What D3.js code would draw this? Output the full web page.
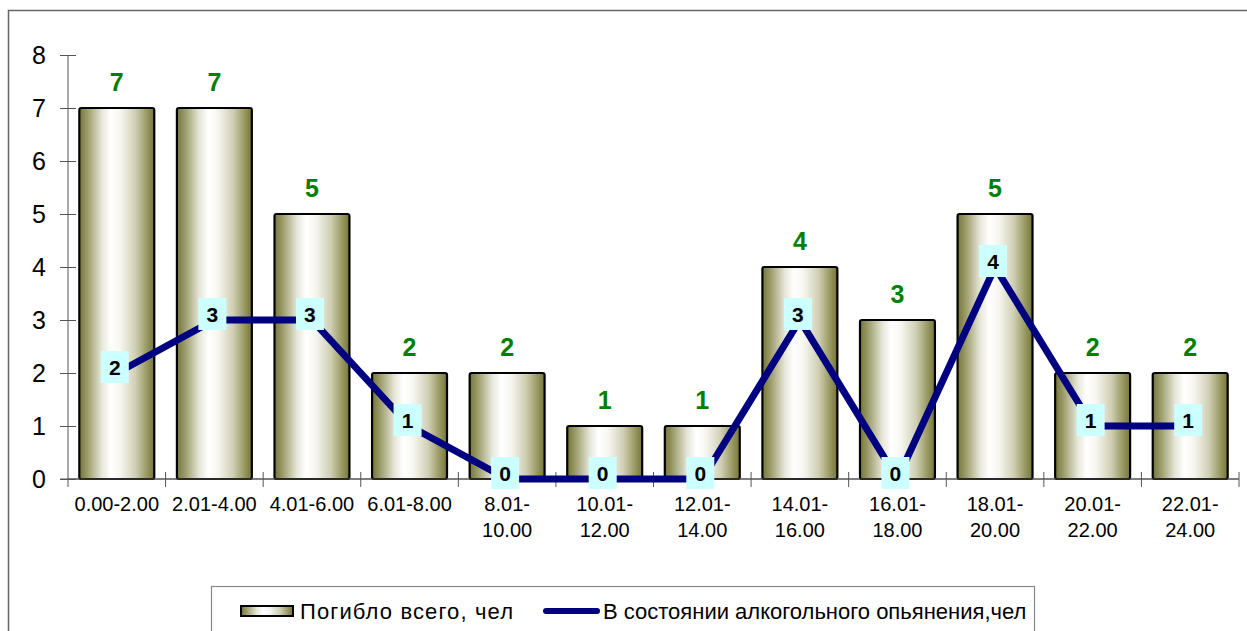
<!DOCTYPE html>
<html>
<head>
<meta charset="utf-8">
<script src="https://cdn.jsdelivr.net/npm/d3@7/dist/d3.min.js"></script>
<style>
  html, body { margin: 0; padding: 0; background: #fff; }
  svg { display: block; font-family: "Liberation Sans", Arial, sans-serif; }
</style>
</head>
<body>
<svg id="chart" width="1247" height="631"></svg>
<script>
const categories = ["0.00-2.00","2.01-4.00","4.01-6.00","6.01-8.00","8.01-10.00","10.01-12.00","12.01-14.00","14.01-16.00","16.01-18.00","18.01-20.00","20.01-22.00","22.01-24.00"];
const categoryLines = [["0.00-2.00"],["2.01-4.00"],["4.01-6.00"],["6.01-8.00"],["8.01-","10.00"],["10.01-","12.00"],["12.01-","14.00"],["14.01-","16.00"],["16.01-","18.00"],["18.01-","20.00"],["20.01-","22.00"],["22.01-","24.00"]];
const totalDeaths = [7,7,5,2,2,1,1,4,3,5,2,2];
const drunkDeaths = [2,3,3,1,0,0,0,3,0,4,1,1];
const yTicks = [0,1,2,3,4,5,6,7,8];
const seriesNames = ["Погибло всего, чел", "В состоянии алкогольного опьянения,чел"];

const svg = d3.select("#chart");
const defs = svg.append("defs");
const grad = defs.append("linearGradient").attr("id","barGrad").attr("x1","0%").attr("x2","100%").attr("y1","0%").attr("y2","0%");
[["0%","#75753a"],["12%","#a0a070"],["30%","#e6e6da"],["42%","#ffffff"],["55%","#f6f6f0"],["75%","#cfcfb4"],["90%","#999963"],["100%","#75753a"]]
  .forEach(([o,c]) => grad.append("stop").attr("offset",o).attr("stop-color",c));

// outer frame
svg.append("rect").attr("x",8.5).attr("y",10.5).attr("width",1260).attr("height",660)
  .attr("fill","none").attr("stroke","#666").attr("stroke-width",1.5);

const x = d3.scaleBand().domain(categories).range([68, 1239]).paddingInner(0.232).paddingOuter(0.116);
const y = d3.scaleLinear().domain([0, 8]).range([479, 55]);

// Y axis
const yAxis = svg.append("g").attr("transform","translate(68,0)")
  .call(d3.axisLeft(y).tickValues(yTicks).tickSize(8).tickPadding(14).tickFormat(d3.format("d")));
yAxis.attr("font-size",null).attr("font-family",null);
yAxis.select(".domain").attr("stroke","#555").attr("d","M0,55V487");
yAxis.selectAll(".tick line").attr("stroke","#555").attr("x1",-8).attr("x2",8);
yAxis.selectAll(".tick text").attr("font-size",25).attr("fill","#000").attr("dy","0.35em");

// X axis line and ticks at category boundaries
const step = x.step();
const bounds = d3.range(categories.length + 1).map(i => 68 + i * step);
svg.append("line").attr("x1",60).attr("x2",1239).attr("y1",y(0)).attr("y2",y(0)).attr("stroke","#555");
svg.selectAll(".xt").data(bounds.slice(1)).enter().append("line")
  .attr("x1",d=>d).attr("x2",d=>d).attr("y1",y(0)-7).attr("y2",y(0)+8).attr("stroke","#555");

// Bars
svg.selectAll(".bar").data(totalDeaths).enter().append("rect")
  .attr("x",(d,i)=>x(categories[i]))
  .attr("y",d=>y(d))
  .attr("width",x.bandwidth())
  .attr("height",d=>y(0)-y(d))
  .attr("rx",2)
  .attr("fill","url(#barGrad)").attr("stroke","#000").attr("stroke-width",2.2);

svg.append("line").attr("x1",68).attr("x2",1239).attr("y1",y(0)).attr("y2",y(0)).attr("stroke","#555").attr("stroke-width",1);

// Bar value labels
svg.selectAll(".bv").data(totalDeaths).enter().append("text")
  .attr("x",(d,i)=>x(categories[i]) + x.bandwidth()/2)
  .attr("y",d=>y(d)-17)
  .attr("text-anchor","middle")
  .attr("font-size",25).attr("font-weight","bold").attr("fill","#008000")
  .text(d=>d);

// X category labels
const xl = svg.selectAll(".xl").data(categoryLines).enter().append("text")
  .attr("x",(d,i)=>x(categories[i]) + x.bandwidth()/2)
  .attr("y",511)
  .attr("text-anchor","middle")
  .attr("font-size",20).attr("fill","#000");
xl.selectAll("tspan").data(d=>d).enter().append("tspan")
  .attr("x",function(){ return d3.select(this.parentNode).attr("x"); })
  .attr("dy",(d,j)=> j===0 ? 0 : 26)
  .text(d=>d);

// Line
const cx = i => x(categories[i]) + x.bandwidth()/2;
const line = d3.line().x((d,i)=>cx(i)).y(d=>y(d));
svg.append("path").datum(drunkDeaths).attr("d",line)
  .attr("fill","none").attr("stroke","#000080").attr("stroke-width",7).attr("stroke-linejoin","miter");

// Line labels
const lg = svg.selectAll(".ll").data(drunkDeaths).enter().append("g")
  .attr("transform",(d,i)=>`translate(${cx(i)-2},${y(d)-6})`);
lg.append("rect").attr("x",-14).attr("y",-16).attr("width",28).attr("height",32).attr("fill","#ccffff");
lg.append("text").attr("text-anchor","middle").attr("dy","0.36em")
  .attr("font-size",21).attr("font-weight","bold").attr("fill","#000").text(d=>d);

// Legend
svg.append("rect").attr("x",211.5).attr("y",586.5).attr("width",823).attr("height",60)
  .attr("fill","#fff").attr("stroke","#888").attr("stroke-width",1.2);
svg.append("rect").attr("x",241).attr("y",606).attr("width",52).attr("height",10)
  .attr("fill","url(#barGrad)").attr("stroke","#000").attr("stroke-width",2);
svg.append("text").attr("x",300).attr("y",619).attr("font-size",22).attr("fill","#000")
  .attr("textLength",213).attr("lengthAdjust","spacing").text(seriesNames[0]);
svg.append("line").attr("x1",546).attr("x2",597).attr("y1",611).attr("y2",611)
  .attr("stroke","#000080").attr("stroke-width",6).attr("stroke-linecap","round");
svg.append("text").attr("x",603).attr("y",619).attr("font-size",22).attr("fill","#000").text(seriesNames[1]);
</script>
</body>
</html>
